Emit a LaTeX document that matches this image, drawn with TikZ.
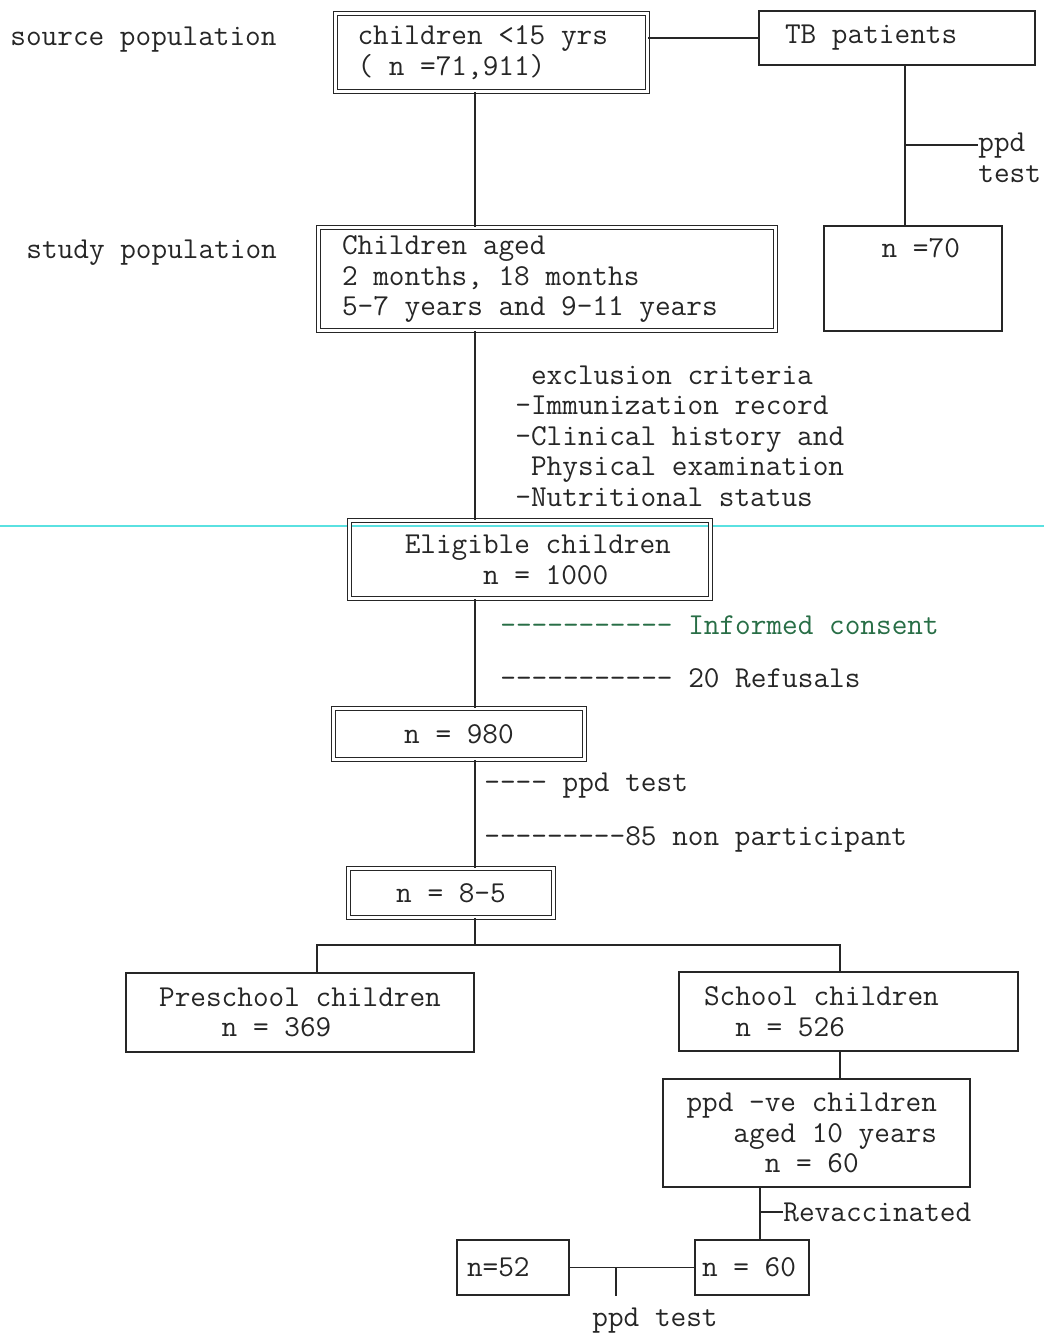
\documentclass[tikz,border=0pt]{standalone}
\newcommand{\mono}{\ttfamily\fontsize{15.2}{15.3}\selectfont}
\definecolor{consent}{RGB}{40,110,70}
\definecolor{scanline}{RGB}{90,225,225}
\begin{document}
\begin{tikzpicture}[x=0.5pt, y=-0.5pt,
    box/.style={
      draw=black!85, line width=0.7pt, align=flush left,
      font=\mono, text=black!85, inner ysep=0pt
    },
    dbox/.style={box, line width=0.5pt, double, double distance=1.5pt},
    lbl/.style={anchor=west, inner sep=0pt, font=\mono, text=black!85, align=flush left},
    link/.style={-, line width=0.7pt, black!85}
  ]
    \useasboundingbox (0,0) rectangle (1044,1334);
    \draw[scanline, line width=0.6pt] (0,526) -- (1044,526);

    \coordinate (spine) at (475,0);
    \coordinate (tbx)   at (905,0);
    \coordinate (tbbr)  at (905,145);
    \coordinate (lft)   at (317,945);
    \coordinate (rgt)   at (840,945);
    \coordinate (rev)   at (760,1212);
    \coordinate (pmid)  at (616,1267.5);

    % side labels
    \node[lbl] (srclbl)   at (10,40)  {source population};
    \node[lbl] (studylbl) at (26,253) {study population};

    % main column
    \node[dbox, text width=134pt, inner xsep=11pt, minimum height=39pt] (src) at (491.5,52.5)
      {children <15 yrs\\( n =71,911)};
    \node[box, text width=112pt, inner xsep=13pt, minimum height=27pt] (tb) at (897,38)
      {TB patients};
    \node[box, minimum width=89pt, minimum height=52.5pt, align=flush center] (n70) at (913,278.5)
      {\phantom{0}n =70\\\mbox{}\\\mbox{}};
    \node[lbl] (ppdtb) at (978,158) {ppd\\test};

    \node[dbox, text width=205pt, inner xsep=11.75pt, minimum height=51.5pt] (study) at (547,279)
      {Children aged\\2 months, 18 months\\5-7 years and 9-11 years};
    \node[lbl] (excl) at (515,436) {%
      \phantom{-}exclusion criteria\\-Immunization record\\-Clinical history and\\%
      \phantom{-}Physical examination\\-Nutritional status};

    \node[dbox, minimum width=180.5pt, minimum height=39pt] (elig) at (530,559.5)
      {\phantom{0}Eligible children\\\phantom{000000}n = 1000};
    \node[lbl, text=consent] (consent) at (500,625) {----------- Informed consent};
    \node[lbl] (refuse) at (500,678) {----------- 20 Refusals};

    \node[dbox, minimum width=125.5pt, minimum height=25.5pt, align=flush center] (n980) at (459,734)
      {n = 980};
    \node[lbl] (ppdtest)  at (484,786) {---- ppd test};
    \node[lbl] (nonpart)  at (484,839) {---------85 non participant};

    \node[dbox, minimum width=102.5pt, minimum height=24.5pt, align=flush center] (n85) at (451,893)
      {n = 8–5};

    % split
    \node[box, minimum width=174pt, minimum height=39.5pt] (pre) at (300,1012.5)
      {Preschool children\\\phantom{0000}n = 369};
    \node[box, text width=144.5pt, inner xsep=12.5pt, minimum height=39.5pt] (school) at (848.5,1011.5)
      {School children\\\phantom{00}n = 526};
    \node[box, text width=130pt, inner xsep=11.75pt, minimum height=54pt] (neg) at (816.5,1133)
      {ppd -ve children\\\phantom{000}aged 10 years\\\phantom{00000}n = 60};
    \node[lbl] (revlbl) at (783,1212) {Revaccinated};

    \node[box, text width=50pt, inner xsep=3.5pt, minimum height=27.5pt] (n60) at (752,1267.5)
      {n = 60};
    \node[box, text width=46pt, inner xsep=5pt, minimum height=27.5pt] (n52) at (513,1267.5)
      {n=52};
    \node[font=\mono, text=black!85, inner sep=0pt] (ppdbot) at (655,1321) {ppd test};

    % connectors
    \draw[link] (tb.west -| src.east) -- (tb.west);
    \draw[link] (src.south -| spine) -- (study.north -| spine);
    \draw[link] (tb.south -| tbx) -- (n70.north -| tbx);
    \draw[link] (tbbr) -- (ppdtb.west |- tbbr);
    \draw[link] (study.south -| spine) -- (elig.north -| spine);
    \draw[link] (elig.south -| spine) -- (n980.north -| spine);
    \draw[link] (n980.south -| spine) -- (n85.north -| spine);
    \draw[link] (n85.south -| spine) -- (spine |- lft);
    \draw[link] (lft |- pre.north) -- (lft) -- (rgt) -- (rgt |- school.north);
    \draw[link] (school.south -| rgt) -- (neg.north -| rgt);
    \draw[link] (neg.south -| rev) -- (n60.north -| rev);
    \draw[link] (rev) -- (revlbl.west);
    \draw[link] (n52.east) -- (n60.west);
    \draw[link] (pmid) -- (pmid |- n52.south);
  \end{tikzpicture}
\end{document}
